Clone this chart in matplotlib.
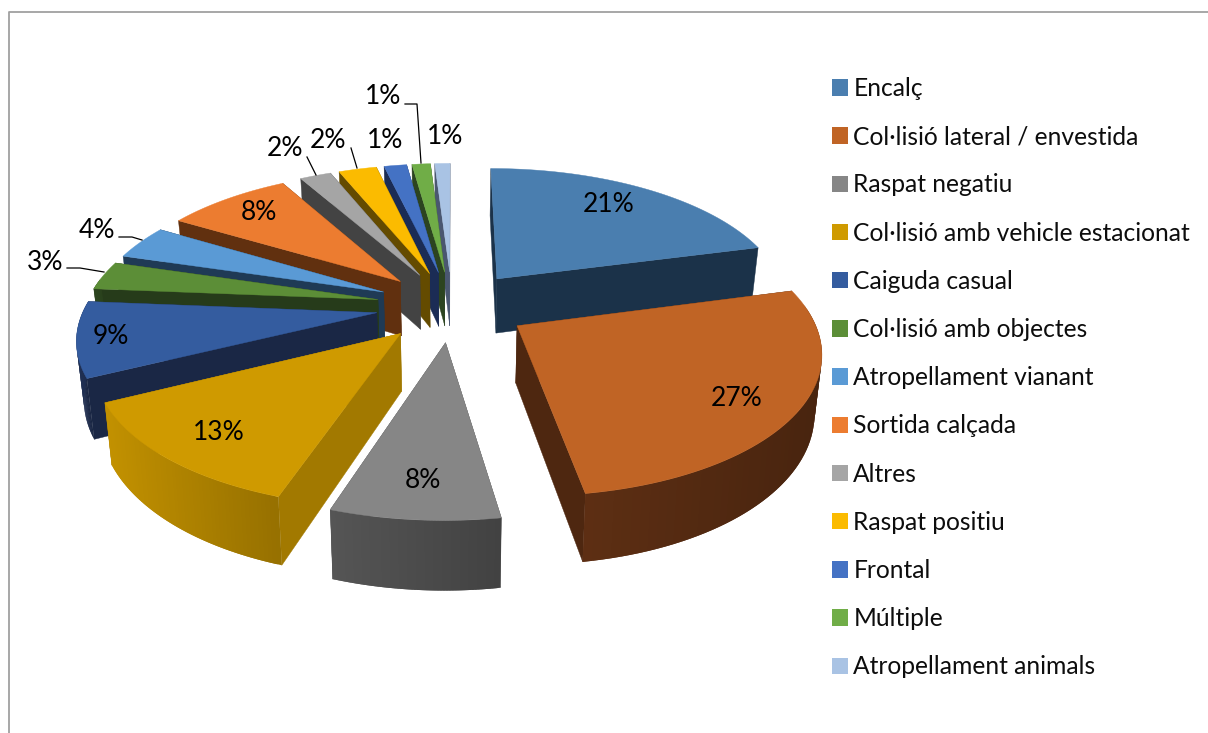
import numpy as np
import matplotlib
matplotlib.use("Agg")
import matplotlib.pyplot as plt
from matplotlib.patches import Patch

plt.rcParams["font.family"] = ["Lato", "DejaVu Sans"]

categories = ["Encalç", "Col·lisió lateral / envestida", "Raspat negatiu",
              "Col·lisió amb vehicle estacionat", "Caiguda casual",
              "Col·lisió amb objectes", "Atropellament vianant", "Sortida calçada",
              "Altres", "Raspat positiu", "Frontal", "Múltiple", "Atropellament animals"]
# shares, labels show them rounded
values = [20.9, 26.6, 7.6, 12.6, 8.6, 3.3, 3.95, 8.2, 2.05, 2.5, 1.49, 1.21, 1.0]

top_colors = ["#4A7EAF", "#C06425", "#868686", "#CF9A00", "#345C9F", "#5C8E37", "#5A9AD5",
              "#EC7C30", "#A5A5A5", "#FBBB00", "#4472C4", "#70AD47", "#A9C3E4"]
wall_colors = ["#1B3249", "#4E2710", "#474747", "#A27900", "#1A2745", "#263B1A", "#1F3A55",
               "#61300F", "#434343", "#644B00", "#1B2C55", "#2C4420", "#4A5770"]

# label centres in pixels
label_pos = [(609, 205), (737, 398), (423, 480), (219, 433), (111, 336), (45, 262), (97, 230),
             (259, 212), (285, 149), (328, 141), (385, 141), (383, 97), (445, 137)]
leaders = [[(67, 268), (80, 268), (104, 272)],
           [(119, 237), (132, 237), (142, 240)],
           [(307, 157), (316, 175)],
           [(351, 148), (357, 168)],
           [(405, 104), (417, 104), (421, 163)]]

# camera for the fake 3d pie
cx, cy = 452, 306
ax_x, ax_y = 292, 136
k = 0.16
explode = 0.26
depth = 56


def project(x, y, low=False):
    w = 1 / (1 - k * y)
    sx = cx + ax_x * x * w
    sy = cy + ax_y * y * w
    if low:
        sx = cx + (sx - cx) * 0.98
        sy = sy + depth * w
    return sx, sy


fig = plt.figure(figsize=(12.08, 7.33), dpi=100)
ax = fig.add_axes([0, 0, 1, 1])
ax.set_xlim(0, 1208)
ax.set_ylim(733, 0)
ax.axis("off")

ax.plot([9, 9, 1208], [733, 12, 12], color="#A0A0A0", lw=1.3, solid_capstyle="butt")

shares = np.array(values) / sum(values) * 2 * np.pi
ends = np.cumsum(shares)
starts = ends - shares
mids = (starts + ends) / 2
apex_y = explode * -np.cos(mids)

# back slices first
for i in np.argsort(apex_y):
    ox = explode * np.sin(mids[i])
    oy = explode * -np.cos(mids[i])
    t = np.linspace(starts[i], ends[i], 60)
    rim_x = ox + np.sin(t)
    rim_y = oy - np.cos(t)
    wall_c = np.array(matplotlib.colors.to_rgb(wall_colors[i]))

    # radial walls, the one further back goes first
    walls = [(rim_x[0], rim_y[0]), (rim_x[-1], rim_y[-1])]
    walls.sort(key=lambda p: p[1])
    for wx, wy in walls:
        a = project(ox, oy)
        b = project(wx, wy)
        c = project(wx, wy, True)
        d = project(ox, oy, True)
        ax.fill([a[0], b[0], c[0], d[0]], [a[1], b[1], c[1], d[1]],
                color=wall_colors[i], lw=0.3, zorder=1)

    # outer wall in strips, lighter to the left of each slice. strips overlap to hide seams
    rim_sx = project(rim_x, rim_y)[0]
    for j in range(len(t) - 1):
        if rim_y[j] + rim_y[j + 1] < 2 * oy - 0.3:
            continue
        n = min(j + 2, len(t) - 1)
        a = project(rim_x[j], rim_y[j])
        b = project(rim_x[n], rim_y[n])
        c = project(rim_x[n], rim_y[n], True)
        d = project(rim_x[j], rim_y[j], True)
        frac = (a[0] - rim_sx.min()) / (rim_sx.max() - rim_sx.min())
        col = np.clip(wall_c * (1.2 - 0.27 * frac), 0, 1)
        ax.fill([a[0], b[0], c[0], d[0]], [a[1], b[1], c[1], d[1]],
                color=col, lw=0, zorder=1)

    sx, sy = project(np.r_[ox, rim_x], np.r_[oy, rim_y])
    ax.fill(sx, sy, color=top_colors[i], lw=0.3, zorder=1)

for pts in leaders:
    ax.plot([p[0] for p in pts], [p[1] for p in pts], color="black", lw=0.9, zorder=2)

for v, pos in zip(values, label_pos):
    ax.text(pos[0], pos[1], f"{round(v)}%", fontsize=19, ha="center", va="center",
            color="black", zorder=3)

handles = [Patch(facecolor=c, edgecolor="none") for c in top_colors]
ax.legend(handles, categories, loc="upper left", bbox_to_anchor=(832 / 1208, 1 - 77 / 733),
          frameon=False, fontsize=17.7, borderpad=0, borderaxespad=0, handlelength=0.65,
          handleheight=0.65, handletextpad=0.22, labelspacing=1.025, labelcolor="#0D0D0D")

fig.savefig("out.png", dpi=100)
